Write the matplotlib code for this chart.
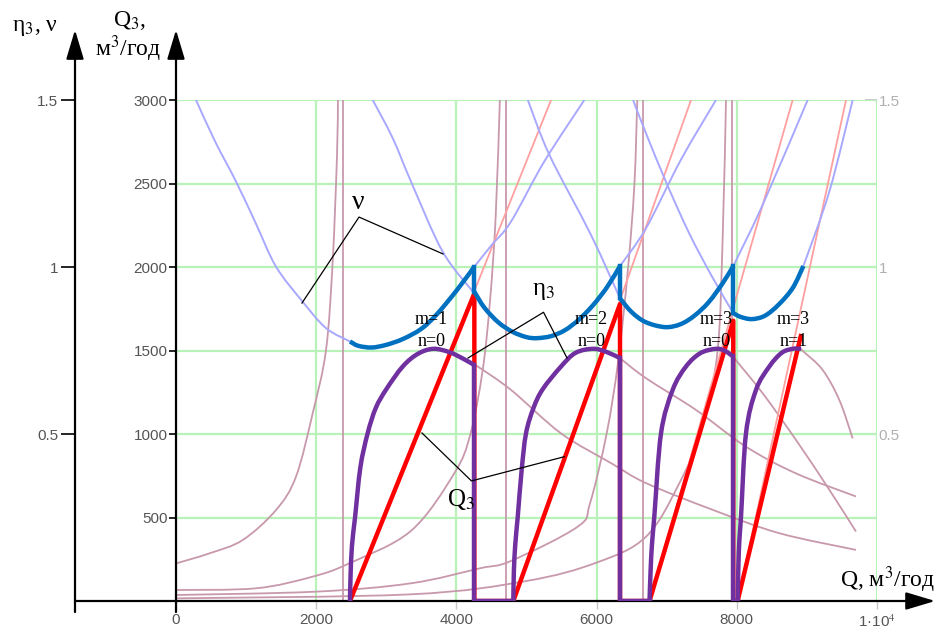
import matplotlib.pyplot as plt
import matplotlib.transforms as mtransforms
from matplotlib.path import Path
from matplotlib.patches import PathPatch

plt.rcParams['mathtext.fontset'] = 'stix'

# ---- thick curves: operating envelope --------------------------------------
# nu (relative), four segments separated by mode switches
nu_q = [[2482, 2600, 2792, 3000, 3243, 3500, 3719, 4004, 4256],
        [4256, 4400, 4600, 4800, 5000, 5150, 5350, 5550, 5750, 5950, 6150, 6334],
        [6334, 6500, 6700, 6976, 7200, 7400, 7600, 7800, 7950],
        [7950, 8050, 8212, 8400, 8600, 8800, 8950]]
nu_v = [[0.777, 0.764, 0.759, 0.767, 0.785, 0.815, 0.858, 0.930, 1.001],
        [0.926, 0.878, 0.834, 0.806, 0.790, 0.787, 0.793, 0.811, 0.843, 0.886, 0.940, 1.003],
        [0.906, 0.865, 0.835, 0.820, 0.829, 0.855, 0.895, 0.952, 1.003],
        [0.862, 0.851, 0.844, 0.854, 0.888, 0.938, 1.003]]

# pump efficiency eta_3 along the envelope, one list per mode
eta_q = [[2482, 2490, 2510, 2555, 2630, 2734, 2850, 3000, 3234, 3450, 3671, 3900, 4100, 4251],
         [4812, 4820, 4840, 4875, 4930, 4993, 5100, 5231, 5492, 5700, 5953, 6150, 6334],
         [6755, 6770, 6790, 6823, 6919, 7085, 7275, 7480, 7703, 7830, 7940],
         [8012, 8022, 8036, 8060, 8131, 8274, 8464, 8640, 8797, 8916]]
eta_v = [[0.0, 0.075, 0.165, 0.252, 0.400, 0.502, 0.578, 0.634, 0.702, 0.740, 0.755, 0.745, 0.725, 0.707],
         [0.0, 0.090, 0.170, 0.252, 0.390, 0.502, 0.578, 0.634, 0.702, 0.743, 0.755, 0.745, 0.727],
         [0.0, 0.090, 0.170, 0.252, 0.502, 0.632, 0.702, 0.742, 0.755, 0.749, 0.733],
         [0.0, 0.100, 0.180, 0.252, 0.502, 0.632, 0.702, 0.743, 0.755, 0.755]]

# Q3 (m3/h) along the envelope
q3_q = [2482, 4256, 4256, 4812, 6334, 6334, 6755, 7950, 7950, 8012, 8920]
q3_v = [0, 1842, 0, 0, 1778, 0, 0, 1678, 0, 0, 1599]

# ---- thin background curves --------------------------------------------------
# nu branches of each mode outside the envelope
nu_thin_q = [[285, 560, 856, 1140, 1427, 1807, 2140, 2482],
             [4256, 4500, 4779, 5254, 5825],
             [2806, 3091, 3352, 3804, 4256],
             [6334, 6705, 7200, 7703],
             [5019, 5326, 5920, 6334],
             [7950, 8369, 9011],
             [6520, 6705, 7000, 7323, 7650, 7950],
             [8950, 9320, 9653]]
nu_thin_v = [[1.500, 1.375, 1.256, 1.130, 1.001, 0.896, 0.817, 0.777],
             [1.001, 1.065, 1.136, 1.316, 1.500],
             [1.500, 1.386, 1.256, 1.046, 0.921],
             [1.003, 1.116, 1.320, 1.500],
             [1.500, 1.336, 1.096, 0.906],
             [1.003, 1.186, 1.500],
             [1.500, 1.400, 1.250, 1.100, 0.970, 0.862],
             [1.003, 1.226, 1.500]]

# Q3 lines continued past the switching points
q3_ext_start = [2482, 4812, 6755, 8012]
q3_ext_top = [5350, 7347, 8797, 9558]

# eta of each mode after the switching point
eta_thin_q = [[4251, 4304, 4779, 5492, 6205, 6705, 7656, 8606, 9700],
              [6334, 6705, 7418, 8131, 8845, 9700],
              [7940, 8369, 8845, 9320, 9700],
              [8916, 8950, 9224, 9462, 9653]]
eta_thin_v = [[0.707, 0.702, 0.632, 0.502, 0.413, 0.353, 0.273, 0.203, 0.153],
              [0.727, 0.667, 0.572, 0.462, 0.382, 0.313],
              [0.733, 0.622, 0.482, 0.333, 0.208],
              [0.755, 0.747, 0.692, 0.602, 0.487]]

# Q3 of each mode below the limits
lim_q = [[0, 475, 951, 1427, 1712, 1950, 2140, 2235, 2297, 2310],
         [0, 1141, 1950, 2473, 3352, 3970, 4200, 4375, 4480, 4560, 4620],
         [0, 2000, 3352, 4337, 4779, 5730, 5906, 6144, 6310, 6450, 6540, 6580],
         [0, 3352, 5000, 6000, 6705, 7180, 7513, 7727, 7800, 7846]]
lim_v = [[225, 285, 365, 545, 745, 1124, 1503, 2032, 2671, 3000],
         [66, 76, 146, 226, 420, 765, 1000, 1383, 1800, 2300, 3000],
         [36, 56, 106, 196, 240, 445, 585, 1004, 1443, 2000, 2500, 3000],
         [16, 40, 120, 230, 385, 705, 1044, 1503, 2200, 3000]]
lim_vert = [2378, 4708, 6662, 7932]

blue = '#0070c0'
purple = '#7030a0'
red = '#ff0000'
thin_blue = '#a8a8ff'
thin_red = '#ffa0a0'
thin_maroon = '#c898ac'
grid_green = '#b8f2b8'
tick_grey = '#555555'


def smooth(xs, ys):
    """Bezier path passing through every given point."""
    pts = list(zip(xs, ys))
    verts, codes = [pts[0]], [Path.MOVETO]
    n = len(pts)
    for i in range(n - 1):
        p0 = pts[max(i - 1, 0)]
        p1, p2 = pts[i], pts[i + 1]
        p3 = pts[min(i + 2, n - 1)]
        c1 = (p1[0] + (p2[0] - p0[0]) / 6, p1[1] + (p2[1] - p0[1]) / 6)
        c2 = (p2[0] - (p3[0] - p1[0]) / 6, p2[1] - (p3[1] - p1[1]) / 6)
        verts += [c1, c2, p2]
        codes += [Path.CURVE4] * 3
    return Path(verts, codes)


def curve(ax, xs, ys, transform=None, **kw):
    patch = PathPatch(smooth(xs, ys), fill=False, **kw)
    if transform is not None:
        patch.set_transform(transform)
    ax.add_patch(patch)


fig = plt.figure(figsize=(9.44, 6.39), dpi=100)
ax = fig.add_axes([176 / 944, 38 / 639, 701 / 944, 501 / 639])
ax.set_xlim(0, 10000)
ax.set_ylim(0, 3000)
for s in ax.spines.values():
    s.set_visible(False)

# nu and eta share the plot area, 1.5 at the top
rel = mtransforms.Affine2D().scale(1, 2000) + ax.transData

ax.set_xticks(range(0, 10001, 2000))
ax.set_xticklabels(['0', '2000', '4000', '6000', '8000', '1·10$^4$'])
ax.set_yticks(range(500, 3001, 500))
ax.tick_params(axis='x', direction='out', length=6, color='#c8c8c8', width=1,
               labelsize=11, labelcolor=tick_grey, pad=3)
ax.tick_params(axis='y', direction='out', length=5, color='black', width=1.2,
               labelsize=11, labelcolor=tick_grey, pad=1)
for lab in ax.get_xticklabels() + ax.get_yticklabels():
    lab.set_family('Liberation Sans')
ax.grid(True, color=grid_green, lw=1.6, zorder=0)
ax.set_axisbelow(True)

to_rel = (lambda y: y / 2000, lambda v: v * 2000)
right = ax.secondary_yaxis('right', functions=to_rel)
right.set_yticks([0.5, 1, 1.5])
right.set_yticklabels(['0.5', '1', '1.5'])
right.tick_params(direction='in', length=9, color='#c0c0c0', width=1.2,
                  labelsize=11, labelcolor='#b0b0b0', pad=1)
right.spines['right'].set_visible(False)

left = ax.secondary_yaxis(-101 / 701, functions=to_rel)
left.set_yticks([0.5, 1, 1.5])
left.set_yticklabels(['0.5', '1', '1.5'])
left.tick_params(direction='out', length=10, color='black', width=1.2,
                 labelsize=11, labelcolor=tick_grey, pad=2)
left.spines['left'].set_visible(False)
for lab in right.get_yticklabels() + left.get_yticklabels():
    lab.set_family('Liberation Sans')

# background curves
thin = dict(lw=1.3, zorder=2)
for xs, ys in zip(lim_q, lim_v):
    curve(ax, xs, ys, edgecolor=thin_maroon, **thin)
for xv in lim_vert:
    ax.plot([xv, xv], [0, 3000], color=thin_maroon, **thin)
for xs, ys in zip(eta_thin_q, eta_thin_v):
    curve(ax, xs, ys, transform=rel, edgecolor=thin_maroon, **thin)
for x0, x1 in zip(q3_ext_start, q3_ext_top):
    ax.plot([x0, x1], [0, 3000], color=thin_red, **thin)
for xs, ys in zip(nu_thin_q, nu_thin_v):
    curve(ax, xs, ys, transform=rel, edgecolor=thin_blue, lw=1.4, zorder=2)

# envelope curves
ax.plot(q3_q, q3_v, color=red, lw=3.2, zorder=4, solid_capstyle='butt')

thick = dict(lw=3.2, capstyle='butt', joinstyle='miter')
for i, (xs, ys) in enumerate(zip(eta_q, eta_v)):
    curve(ax, xs, ys, transform=rel, edgecolor=purple, zorder=5, **thick)
    if i + 1 < len(eta_q):
        ax.plot([xs[-1], xs[-1], eta_q[i + 1][0]], [ys[-1], 0, 0], transform=rel,
                color=purple, lw=3.2, zorder=5, solid_joinstyle='miter')

for i, (xs, ys) in enumerate(zip(nu_q, nu_v)):
    curve(ax, xs, ys, transform=rel, edgecolor=blue, zorder=6, **thick)
    if i + 1 < len(nu_q):
        ax.plot([xs[-1], nu_q[i + 1][0]], [ys[-1], nu_v[i + 1][0]], transform=rel,
                color=blue, lw=3.2, zorder=6)

# axes with arrows
arrow = dict(arrowstyle='-|>,head_length=0.9,head_width=0.27', lw=1.6,
             color='black', shrinkA=0, shrinkB=0, mutation_scale=20)
x_out = -101 / 701 * 10000
ax.annotate('', xy=(0, 3420), xytext=(0, -66), arrowprops=arrow, annotation_clip=False)
ax.annotate('', xy=(x_out, 3420), xytext=(x_out, -66), arrowprops=arrow,
            annotation_clip=False)
ax.annotate('', xy=(10830, 0), xytext=(x_out, 0), arrowprops=arrow, annotation_clip=False)

serif = 'Liberation Serif'
fig.text(35 / 944, 1 - 27 / 639, 'η$_3$, ν', family=serif, fontsize=17,
         ha='center', va='center')
fig.text(130 / 944, 1 - 20 / 639, 'Q$_3$,', family=serif, fontsize=17,
         ha='center', va='center')
fig.text(128 / 944, 1 - 49 / 639, 'м$^3$/год', family=serif, fontsize=17,
         ha='center', va='center')
fig.text(888 / 944, 1 - 580 / 639, 'Q, м$^3$/год', family=serif, fontsize=17,
         ha='center', va='center')

# curve labels with leader lines
ax.text(2596, 2389, 'ν', family=serif, fontsize=20, ha='center', va='center')
ax.plot([1797, 2611, 3809], [1784, 2299, 2078], color='black', lw=0.9, zorder=7)
ax.text(5250, 1856, 'η$_3$', family=serif, fontsize=18, ha='center', va='center')
ax.plot([4165, 5243, 5578], [1455, 1729, 1455], color='black', lw=0.9, zorder=7)
ax.text(4066, 605, 'Q$_3$', family=serif, fontsize=18, ha='center', va='center',
        zorder=8)
ax.plot([3509, 4215, 5539], [1006, 719, 864], color='black', lw=0.9, zorder=7)

modes = [('m=1', 'n=0', 3647), ('m=2', 'n=0', 5930),
         ('m=3', 'n=0', 7713), ('m=3', 'n=1', 8806)]
for m_lab, n_lab, xq in modes:
    ax.text(xq, 1685, m_lab, family=serif, fontsize=13, ha='center', va='center', zorder=8)
    ax.text(xq, 1556, n_lab, family=serif, fontsize=13, ha='center', va='center', zorder=8)

fig.savefig('out.png', dpi=100)
